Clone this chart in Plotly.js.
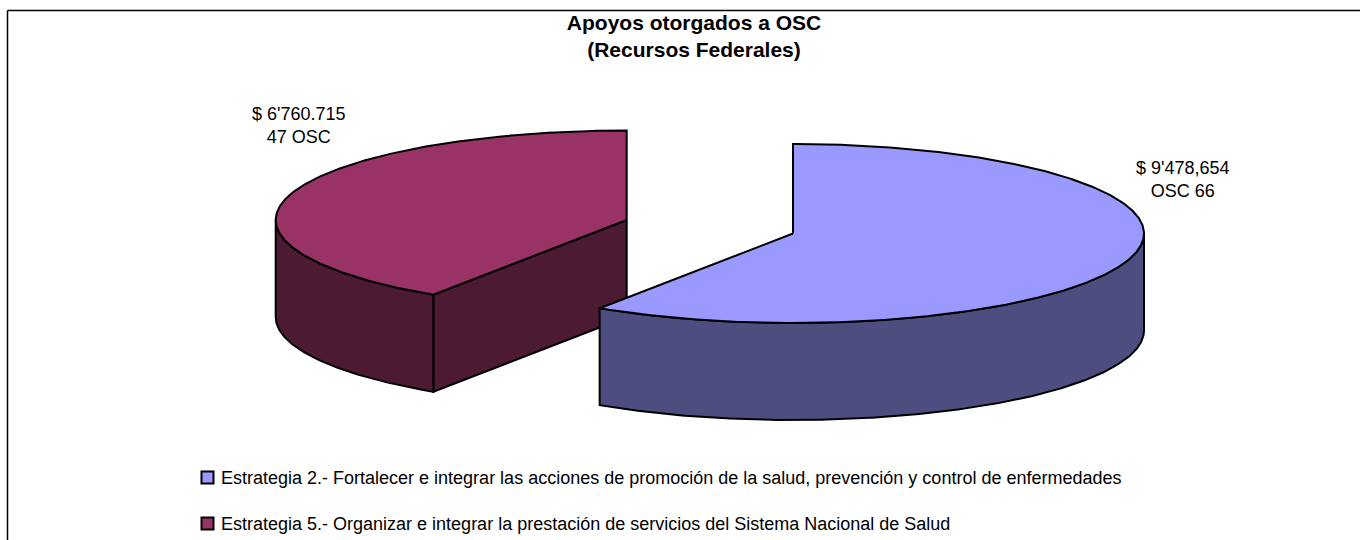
<!DOCTYPE html>
<html><head><meta charset="utf-8">
<script src="https://cdn.plot.ly/plotly-3.0.1.min.js"></script>
<style>html,body{margin:0;padding:0;background:#fff}</style></head>
<body><div id="chart" style="width:1360px;height:540px"></div>
<script>
const categories = ["Estrategia 2.- Fortalecer e integrar las acciones de promoción de la salud, prevención y control de enfermedades",
                    "Estrategia 5.- Organizar e integrar la prestación de servicios del Sistema Nacional de Salud"];
const amounts = [9478654, 6760715];
const amountLabels = ["$ 9'478,654<br>OSC 66", "$ 6'760.715<br>47 OSC"];
const topColors = ["#9999FF", "#993366"];
const sideColors = ["#4D4D80", "#4D1A33"];

// pie geometry in axis units (axes run over the page's pixels)
const rx = 351, ry = 89.5, depth = 97;
const blueC = [793, 233.5], redC = [626.7, 220];
const viewSkew = 1.0157;   // oblique projection of the first slice's end angle
const FONT = "Liberation Sans, Arial, sans-serif";

const total = amounts.reduce((a, b) => a + b, 0);
const cut = amounts[0] / total * 360 * viewSkew;

function pt(c, deg, dy) {
  const t = deg * Math.PI / 180;
  return [c[0] + rx * Math.sin(t), c[1] - ry * Math.cos(t) + (dy || 0)];
}
function arc(c, a, b, dy) {
  const n = Math.max(2, Math.ceil(Math.abs(b - a) * 2)), out = [];
  for (let i = 0; i <= n; i++) out.push(pt(c, a + (b - a) * i / n, dy));
  return out;
}
function poly(points, color) {
  return {x: points.map(p => p[0]), y: points.map(p => p[1]), mode: "lines", fill: "toself",
          fillcolor: color, line: {color: "#000", width: 2, shape: "linear"},
          hoverinfo: "skip", showlegend: false, type: "scatter"};
}

const traces = [
  // slice 2 (red): cut face, rim, top
  poly([redC, pt(redC, cut), pt(redC, cut, depth), [redC[0], redC[1] + depth], redC], sideColors[1]),
  poly([...arc(redC, cut, 270), ...arc(redC, 270, cut, depth)].concat([pt(redC, cut)]), sideColors[1]),
  poly([redC, ...arc(redC, cut, 360), redC], topColors[1]),
  // slice 1 (blue): rim, top
  poly([...arc(blueC, 90, cut), ...arc(blueC, cut, 90, depth)].concat([pt(blueC, 90)]), sideColors[0]),
  poly([blueC, ...arc(blueC, 0, cut), blueC], topColors[0]),
  // legend swatches
  {x: [207.5, 207.5], y: [477.5, 523.5], mode: "markers", type: "scatter", showlegend: false, hoverinfo: "skip",
   marker: {symbol: "square", size: 12, color: topColors, line: {color: "#000", width: 2}}}
];

const layout = {
  width: 1360, height: 540, margin: {l: 0, r: 0, t: 0, b: 0},
  paper_bgcolor: "#fff", plot_bgcolor: "#fff", showlegend: false,
  xaxis: {range: [0, 1360], visible: false, fixedrange: true},
  yaxis: {range: [540, 0], visible: false, fixedrange: true},
  title: {text: "<b>Apoyos otorgados a OSC<br>(Recursos Federales)</b>", x: 694 / 1360, xanchor: "center",
          y: 1 - 30 / 540, yanchor: "top", font: {family: FONT, size: 21, color: "#000"}},
  shapes: [
    {type: "line", xref: "x", yref: "y", x0: 7.5, x1: 1360, y0: 10.5, y1: 10.5, line: {color: "#000", width: 1.5}},
    {type: "line", xref: "x", yref: "y", x0: 7.5, x1: 7.5, y0: 10.5, y1: 540, line: {color: "#000", width: 1.5}}
  ],
  annotations: [
    {x: 1183, y: 179, text: amountLabels[0]},
    {x: 299, y: 125, text: amountLabels[1]},
    {x: 219, y: 478, text: categories[0], xanchor: "left"},
    {x: 219, y: 524, text: categories[1], xanchor: "left"}
  ].map(a => Object.assign({xref: "x", yref: "y", showarrow: false, xanchor: "center", yanchor: "middle",
                            font: {family: FONT, size: 18, color: "#000"}}, a))
};
Plotly.newPlot("chart", traces, layout, {displayModeBar: false, staticPlot: true});
</script></body></html>
